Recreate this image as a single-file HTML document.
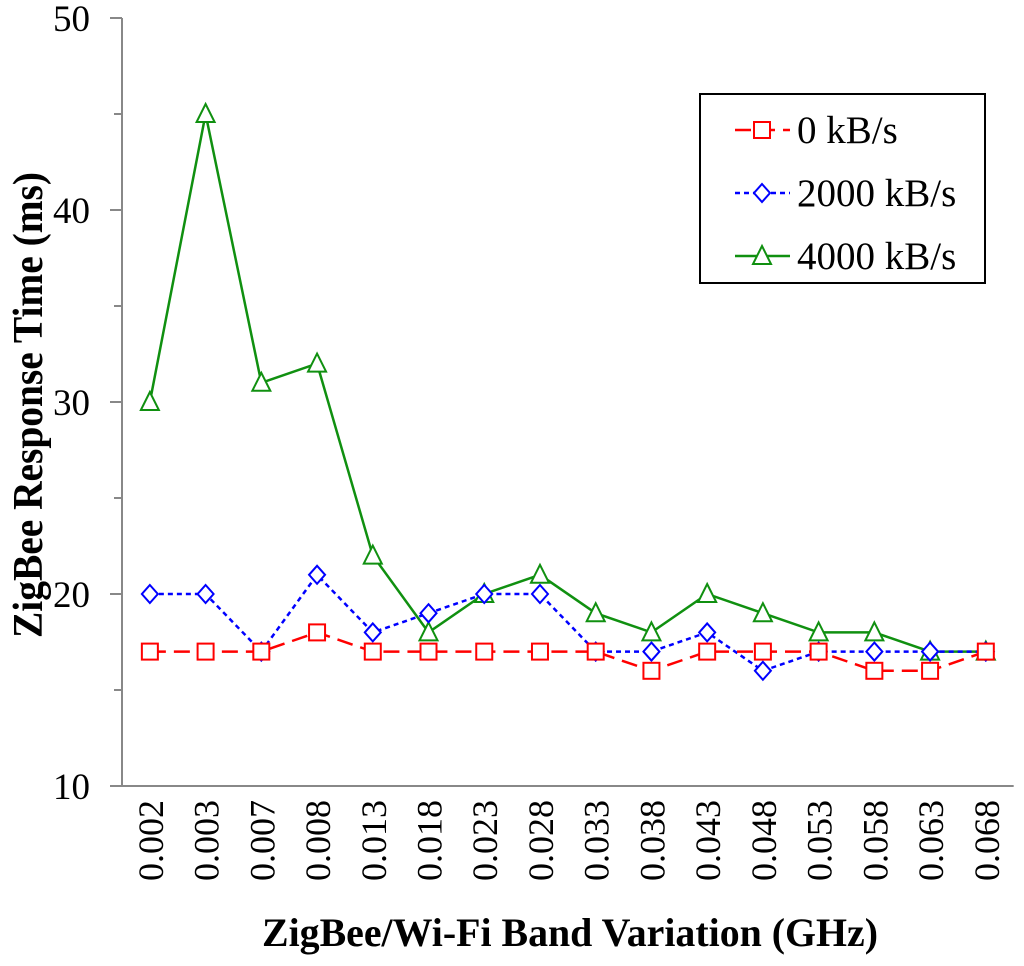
<!DOCTYPE html>
<html><head><meta charset="utf-8"><style>
body{margin:0;background:#fff}
svg text{font-family:"Liberation Serif",serif;fill:#000}
</style></head><body>
<svg width="1024" height="961" xmlns="http://www.w3.org/2000/svg">
<g id="axes"></g>
<g id="series"></g>
<text x="262" y="946" textLength="616" lengthAdjust="spacingAndGlyphs" font-size="40" font-weight="bold">ZigBee/Wi-Fi Band Variation (GHz)</text>
<text transform="translate(42,638) rotate(-90)" textLength="466" lengthAdjust="spacingAndGlyphs" font-size="42" font-weight="bold">ZigBee Response Time (ms)</text>
<g>
<rect x="700" y="94" width="285" height="189" fill="#fff" stroke="#000" stroke-width="2"/>
<g id="legend"></g>
</g>
</svg>
<script>
const categories=["0.002","0.003","0.007","0.008","0.013","0.018","0.023","0.028","0.033","0.038","0.043","0.048","0.053","0.058","0.063","0.068"];
const s0=[17,17,17,18,17,17,17,17,17,16,17,17,17,16,16,17];
const s2000=[20,20,17,21,18,19,20,20,17,17,18,16,17,17,17,17];
const s4000=[30,45,31,32,22,18,20,21,19,18,20,19,18,18,17,17];
const seriesNames=["0 kB/s","2000 kB/s","4000 kB/s"];
const yTicks=[10,20,30,40,50];
const yMinor=[15,25,35,45];
const NS="http://www.w3.org/2000/svg";
const x0=122,band=55.73;
const xs=i=>x0+band*(i+0.5);
const ys=v=>786-(v-10)*19.2;
function mk(t,a,p){const e=document.createElementNS(NS,t);for(const k in a)e.setAttribute(k,a[k]);p.appendChild(e);return e;}
const ax=document.getElementById('axes');
let e=mk('line',{x1:x0,y1:ys(50),x2:x0,y2:786,stroke:'#888','stroke-width':2},ax);


e=mk('line',{x1:110,y1:786,x2:x0+band*16,y2:786,stroke:'#888','stroke-width':2},ax);


yTicks.forEach(v=>{
 e=mk('line',{x1:110,y1:ys(v),x2:x0,y2:ys(v),stroke:'#888','stroke-width':2},ax);
 
 
 e=mk('text',{x:90,y:ys(v)+13,'text-anchor':'end','font-size':37},ax);e.textContent=v;
 
 
});
yMinor.forEach(v=>{
 e=mk('line',{x1:114,y1:ys(v),x2:x0,y2:ys(v),stroke:'#888','stroke-width':2},ax);
 
 
});
categories.forEach((c,i)=>{
 e=mk('text',{transform:`translate(${xs(i)+13},800) rotate(-90)`,'text-anchor':'end','font-size':36},ax);e.textContent=c;
 
 
});
function marker(kind,x,y,color,p){
 let m;
 if(kind==0)m=mk('rect',{x:x-8,y:y-8,width:16,height:16,fill:'#fff',stroke:color,'stroke-width':2},p);
 else if(kind==1)m=mk('polygon',{points:`${x},${y-9} ${x+8},${y} ${x},${y+9} ${x-8},${y}`,fill:'#fff',stroke:color,'stroke-width':2},p);
 else m=mk('polygon',{points:`${x},${y-10} ${x+9},${y+8} ${x-9},${y+8}`,fill:'#fff',stroke:color,'stroke-width':2},p);
 return m;
}
const colors=['#ff0000','#0000ff','#109010'];
const dashes=['16,8','5,4','none'];
const data=[s0,s2000,s4000];
const sg=document.getElementById('series');
[2,1,0].forEach(k=>{
 const d=data[k];
 e=mk('polyline',{points:d.map((v,i)=>xs(i)+','+ys(v)).join(' '),fill:'none',stroke:colors[k],'stroke-width':2.5,'stroke-dasharray':dashes[k]},sg);
 
 
 d.forEach((v,i)=>{
  e=marker(k,xs(i),ys(v),colors[k],sg);
  
  
 });
});
const lg=document.getElementById('legend');
seriesNames.forEach((n,k)=>{
 const y=130+k*63;
 e=mk('line',{x1:735,y1:y,x2:790,y2:y,stroke:colors[k],'stroke-width':2.5,'stroke-dasharray':dashes[k]},lg);
 
 
 e=marker(k,762,y,colors[k],lg);
 
 
 e=mk('text',{x:797,y:y+13,'font-size':39},lg);e.textContent=n;
 
 
});
</script>
</body></html>
